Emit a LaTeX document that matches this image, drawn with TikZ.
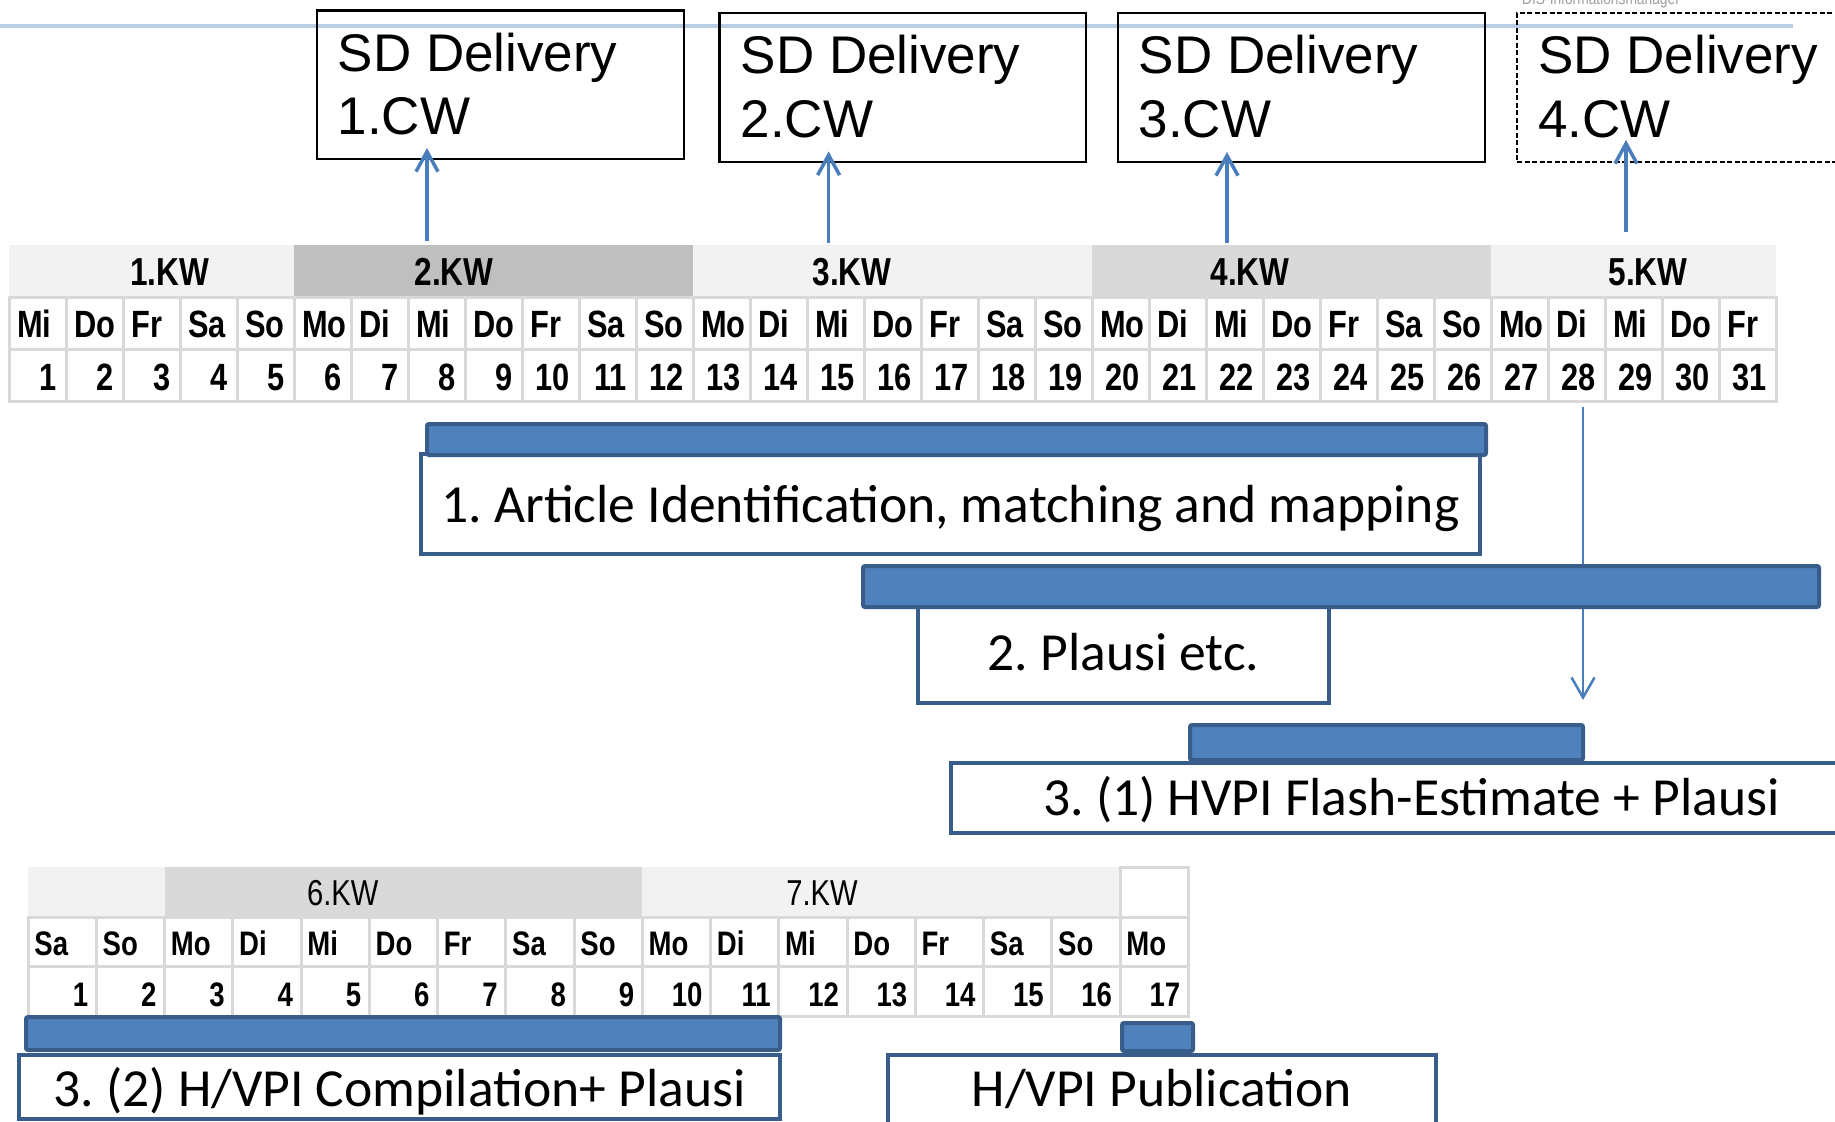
\documentclass[tikz,border=0pt]{standalone}
\usepackage{fontspec}
\setmainfont{Liberation Sans}
\newfontfamily\narrowfont[FakeStretch=0.81]{Liberation Sans}
\newfontfamily\calib{Carlito}
\usetikzlibrary{arrows.meta,calc}
\definecolor{barfill}{HTML}{4F81BD}
\definecolor{bardraw}{HTML}{385D8A}
\definecolor{arrowblue}{HTML}{4A7EBB}
\definecolor{gridgrey}{HTML}{D9D9D9}
\definecolor{hdrlight}{HTML}{F2F2F2}
\definecolor{hdrmid}{HTML}{D9D9D9}
\definecolor{hdrdark}{HTML}{BFBFBF}
\definecolor{toplinecol}{HTML}{B9CDE5}
\newcommand\rnode[6]{\node[#2, minimum width={(#5)-(#3)}, minimum height={(#6)-(#4)}] (#1) at ({((#3)+(#5))/2},{((#4)+(#6))/2}) {};}
\frenchspacing
\begin{document}
\frenchspacing
\begin{tikzpicture}[x=1pt,y=-1pt,
  sdbox/.style={draw=black, line width=2.2pt, inner sep=0pt, outer sep=0pt},
  sddash/.style={sdbox, dash pattern=on 5pt off 2.5pt, line width=2pt},
  sdtext/.style={anchor=base west, inner sep=0pt, font=\fontsize{53}{60}\selectfont},
  bar/.style={draw=bardraw, fill=barfill, line width=4pt, rounded corners=2pt, inner sep=0pt, outer sep=0pt},
  taskbox/.style={draw=bardraw, fill=white, line width=4pt, inner sep=0pt, outer sep=0pt},
  tasktext/.style={anchor=base, inner sep=0pt, font=\calib\frenchspacing\fontsize{53.6}{60}\selectfont},
  cell/.style={draw=gridgrey, fill=white, line width=3pt, inner sep=0pt, outer sep=0pt},
  hdrcell/.style={draw=none, inner sep=0pt, outer sep=0pt},
  kwtext/.style={anchor=base, inner sep=0pt, font=\narrowfont\bfseries\fontsize{39}{45}\selectfont},
  kwbtext/.style={anchor=base, inner sep=0pt, font=\narrowfont\fontsize{36}{42}\selectfont},
  daytext/.style={inner sep=0pt, font=\narrowfont\bfseries\fontsize{38}{44}\selectfont},
  daybtext/.style={inner sep=0pt, font=\narrowfont\bfseries\fontsize{34}{40}\selectfont},
  arr/.style={draw=arrowblue, line width=3.5pt, -{Straight Barb[length=20pt,width=22pt]}},
  arrthin/.style={draw=arrowblue, line width=2.5pt, -{Straight Barb[length=20pt,width=23pt]}}
]
\clip (0,0) rectangle (1835,1121);
\fill[white] (0,0) rectangle (1835,1121);

% faint header text (cut off at top, as in the original)
\node[anchor=base west, inner sep=0pt, text=gray!75, font=\narrowfont\fontsize{17}{20}\selectfont] (dis) at (1522,5) {DIS-Informationsmanager};

% top rule
\coordinate (tl1) at (0,26);
\coordinate (tl2) at (1793,26);
\draw[toplinecol, line width=3.5pt] (tl1) -- (tl2);

% SD delivery boxes
\rnode{sd1}{sdbox}{317}{10.5}{684}{159}
\rnode{sd2}{sdbox}{719.5}{13}{1086}{162}
\rnode{sd3}{sdbox}{1118}{13}{1485}{162}
\rnode{sd4}{sddash}{1517}{13}{1900}{162}
\node[sdtext] (sd1a) at (337.5,71.7) {SD Delivery};
\node[sdtext] (sd1b) at (337.5,135) {1.CW};
\node[sdtext] (sd2a) at (740.5,74) {SD Delivery};
\node[sdtext] (sd2b) at (740.5,138) {2.CW};
\node[sdtext] (sd3a) at (1138.5,74) {SD Delivery};
\node[sdtext] (sd3b) at (1138.5,138) {3.CW};
\node[sdtext] (sd4a) at (1538,74) {SD Delivery};
\node[sdtext] (sd4b) at (1538,138) {4.CW};

% top calendar: week header
\rnode{kw1}{hdrcell,fill=hdrlight}{9}{245}{294}{297}
\rnode{kw2}{hdrcell,fill=hdrdark}{294}{245}{693}{297}
\rnode{kw3}{hdrcell,fill=hdrlight}{693}{245}{1092}{297}
\rnode{kw4}{hdrcell,fill=hdrmid}{1092}{245}{1491}{297}
\rnode{kw5}{hdrcell,fill=hdrlight}{1491}{245}{1776}{297}
\node[kwtext] (kw1t) at (169.7,285) {1.KW};
\node[kwtext] (kw2t) at (454,285) {2.KW};
\node[kwtext] (kw3t) at (852,285) {3.KW};
\node[kwtext] (kw4t) at (1250,285) {4.KW};
\node[kwtext] (kw5t) at (1648,285) {5.KW};

% top calendar: days and dates
\foreach \d [count=\i] in {Mi,Do,Fr,Sa,So,Mo,Di,Mi,Do,Fr,Sa,So,Mo,Di,Mi,Do,Fr,Sa,So,Mo,Di,Mi,Do,Fr,Sa,So,Mo,Di,Mi,Do,Fr}{
  \pgfmathsetmacro\xl{9+57*(\i-1)}
  \pgfmathsetmacro\xr{\xl+57}
  \rnode{td\i}{cell}{\xl}{297}{\xr}{349}
  \rnode{tn\i}{cell}{\xl}{349}{\xr}{401}
  \node[daytext, anchor=base west] (tdl\i) at ({\xl+8},337) {\d};
  \node[daytext, anchor=base east] (tnl\i) at ({\xr-9},390) {\i};
}

% arrows to SD deliveries
\coordinate (a1s) at (427,241);   \coordinate (a1e) at (427,148);
\coordinate (a2s) at (828.6,243); \coordinate (a2e) at (828.6,151.5);
\coordinate (a3s) at (1227,243);  \coordinate (a3e) at (1227,152);
\coordinate (a4s) at (1626,232);  \coordinate (a4e) at (1626,140);
\draw[arr] (a1s) -- (a1e);
\draw[arr] (a2s) -- (a2e);
\draw[arr] (a3s) -- (a3e);
\draw[arr] (a4s) -- (a4e);

% downward arrow from 28 to flash estimate
\coordinate (a5s) at (1583,407);
\coordinate (a5e) at (1583,700);
\draw[arrthin] (a5s) -- (a5e);

% task 1
\rnode{box1}{taskbox}{421}{454}{1480}{554}
\rnode{bar1}{bar}{427}{424}{1486}{455}
\node[tasktext] (t1) at (950.5,522.7) {1. Article Identification, matching and mapping};

% task 2
\rnode{box2}{taskbox}{918}{605}{1329}{703}
\rnode{bar2}{bar}{863}{566}{1819}{607}
\node[tasktext] (t2) at (1123.5,670.7) {2. Plausi etc.};

% task 3 (1)
\rnode{box3}{taskbox}{951}{763}{1872}{833}
\rnode{bar3}{bar}{1190}{725}{1583}{760}
\node[tasktext] (t3) at (1411.5,815) {3. (1) HVPI Flash-Estimate + Plausi};

% bottom calendar: week header
\rnode{kwb0}{hdrcell,fill=hdrlight}{28.2}{867}{164.7}{917}
\rnode{kw6}{hdrcell,fill=hdrmid}{164.7}{867}{642.45}{917}
\rnode{kw7}{hdrcell,fill=hdrlight}{642.45}{867}{1120.2}{917}
\rnode{kwb8}{cell}{1120.2}{867}{1188.45}{917}
\node[kwbtext] (kw6t) at (342.7,905) {6.KW};
\node[kwbtext] (kw7t) at (822,905) {7.KW};

\foreach \d [count=\i] in {Sa,So,Mo,Di,Mi,Do,Fr,Sa,So,Mo,Di,Mi,Do,Fr,Sa,So,Mo}{
  \pgfmathsetmacro\xl{28.2+68.25*(\i-1)}
  \pgfmathsetmacro\xr{\xl+68.25}
  \rnode{bd\i}{cell}{\xl}{917}{\xr}{966}
  \rnode{bn\i}{cell}{\xl}{966}{\xr}{1016}
  \node[daybtext, anchor=base west] (bdl\i) at ({\xl+6},955) {\d};
  \node[daybtext, anchor=base east] (bnl\i) at ({\xr-8},1006.7) {\i};
}

% task 3 (2)
\rnode{box4}{taskbox}{19}{1055}{780}{1119}
\rnode{bar4}{bar}{26}{1017}{780}{1050}
\node[tasktext] (t4) at (399.6,1106.7) {3. (2) H/VPI Compilation+ Plausi};

% publication
\rnode{box5}{taskbox}{888}{1055}{1435.5}{1135}
\rnode{bar5}{bar}{1122}{1023}{1193}{1051}
\draw[bardraw, line width=2pt] (bar5.south) -- (bar5.south |- box5.north);
\node[tasktext] (t5) at (1161.7,1106.7) {H/VPI Publication};
\end{tikzpicture}
\end{document}
